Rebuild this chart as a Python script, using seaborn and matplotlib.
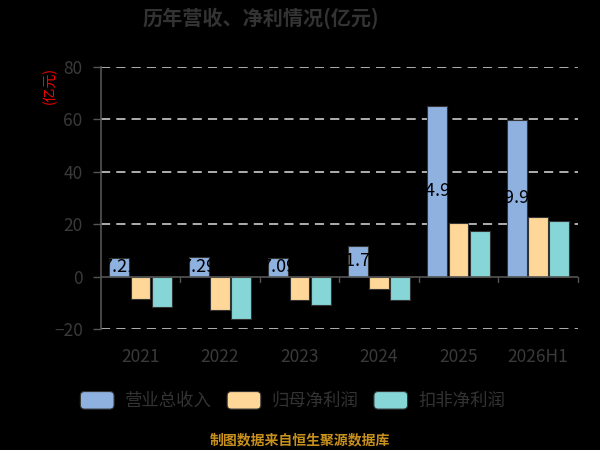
import matplotlib
matplotlib.use("Agg")
import matplotlib.pyplot as plt
import seaborn as sns
import pandas as pd
from matplotlib.patches import FancyBboxPatch
from matplotlib.legend_handler import HandlerPatch

years = ["2021", "2022", "2023", "2024", "2025", "2026H1"]
series_names = ["营业总收入", "归母净利润", "扣非净利润"]
revenue = [7.21, 7.29, 7.09, 11.74, 64.97, 59.95]
net_profit = [-8.5, -12.7, -8.8, -4.9, 20.6, 22.9]
net_profit_deducted = [-11.5, -16.2, -10.8, -8.9, 17.4, 21.3]
colors = ["#8fb1e0", "#ffd899", "#86d6d8"]
yticks = [-20, 0, 20, 40, 60, 80]

sns.set_theme(style="dark")
plt.rcParams["font.family"] = ["Noto Sans CJK SC", "DejaVu Sans"]

df = pd.DataFrame({
    "year": years * 3,
    "series": [series_names[0]] * 6 + [series_names[1]] * 6 + [series_names[2]] * 6,
    "value": revenue + net_profit + net_profit_deducted,
})

fig = plt.figure(figsize=(6, 4.5), dpi=100, facecolor="black")
ax = fig.add_axes([0.168, 0.269, 0.795, 0.582])
ax.set_facecolor("black")

sns.barplot(data=df, x="year", y="value", hue="series", order=years,
            hue_order=series_names, palette=colors, saturation=1, gap=0.07,
            edgecolor="#333333", linewidth=0.8, ax=ax, legend=False, zorder=3)

ax.set_ylim(-20, 80)
ax.set_xlim(-0.5, 5.5)
ax.set_yticks(yticks)
for v in [20, 40, 60, 80, -20]:
    ax.axhline(v, color="#dddddd", linestyle=(0, (6, 4)), linewidth=1.1, zorder=1)
ax.axhline(0, color="#555555", linewidth=1.2, zorder=4)

for s in ["top", "right", "bottom"]:
    ax.spines[s].set_visible(False)
ax.spines["left"].set_color("#555555")
ax.spines["left"].set_linewidth(1.2)
ax.grid(False)

ax.tick_params(axis="y", colors="#555555", labelcolor="#3a3a3a", labelsize=12.5,
               length=6, width=1, direction="out", left=True, pad=7)
ax.tick_params(axis="x", bottom=False, labelcolor="#3a3a3a", labelsize=12.5, pad=8)
ax.set_xlabel("")
ax.set_ylabel("")

# x tick marks at category boundaries on the zero line
for b in range(1, 7):
    ax.plot([b - 0.5, b - 0.5], [0, -2.2], color="#555555", linewidth=1, zorder=4,
            clip_on=False)

# value labels at centres of revenue bars (black text)
rev_bars = ax.containers[0]
for bar, val in zip(rev_bars, revenue):
    cx = bar.get_x() + bar.get_width() / 2
    ax.text(cx, val / 2, f"{val:.2f}", ha="center", va="center",
            color="#000000", fontsize=13, zorder=5)

fig.text(0.435, 0.96, "历年营收、净利情况(亿元)", ha="center", va="center",
         color="#333333", fontsize=14.5, fontweight="bold")
fig.text(0.083, 0.81, "(亿元)", ha="center", va="center", rotation=90,
         color="#ff0000", fontsize=10)
fig.text(0.5, 0.022, "制图数据来自恒生聚源数据库", ha="center", va="center",
         color="#c8901c", fontsize=10, fontweight="bold")


class RoundHandler(HandlerPatch):
    def create_artists(self, legend, orig_handle, xdescent, ydescent, width,
                       height, fontsize, trans):
        p = FancyBboxPatch((-xdescent + 1, -ydescent + 0.5), width - 2, height - 1,
                           boxstyle="round,pad=0,rounding_size=3",
                           facecolor=orig_handle.get_facecolor(),
                           edgecolor="#333333", linewidth=0.8, transform=trans)
        return [p]


handles = [plt.Rectangle((0, 0), 1, 1, facecolor=c) for c in colors]
leg = fig.legend(handles, series_names, loc="center", bbox_to_anchor=(0.487, 0.11),
                 ncol=3, frameon=False, fontsize=12.5, handlelength=2.1,
                 handleheight=1.3, columnspacing=0.8, handletextpad=0.55,
                 handler_map={plt.Rectangle: RoundHandler()})
for t in leg.get_texts():
    t.set_color("#333333")

fig.savefig("out.png", dpi=100, facecolor="black")
